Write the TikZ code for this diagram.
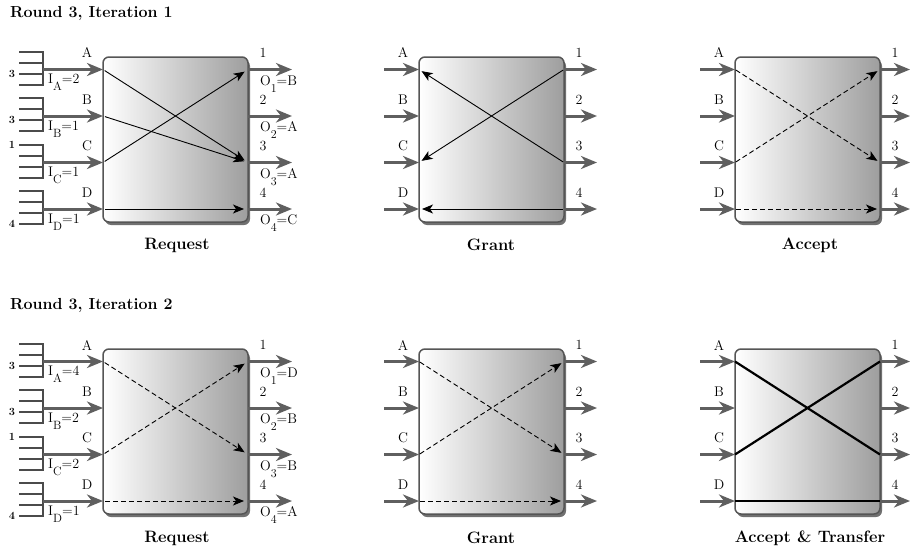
\documentclass[tikz,border=0pt]{standalone}
\usetikzlibrary{arrows.meta,shadows}
\definecolor{arrowgray}{RGB}{95,95,95}
\definecolor{boxedge}{RGB}{85,85,85}
\definecolor{boxgray}{RGB}{158,158,158}
\definecolor{queuegray}{RGB}{75,75,75}
\newcommand\lsub[1]{\raisebox{-7pt}{\fontsize{12}{13}\selectfont #1}}
\tikzset{
  box/.style={draw=boxedge, line width=1.5pt, rounded corners=6pt, left color=white, right color=boxgray,
    minimum width=145pt, minimum height=165pt, inner sep=0pt, outer sep=0pt,
    drop shadow={shadow xshift=2pt, shadow yshift=-3pt, opacity=0.7, fill=black!80}},
  bigarrow/.style={line width=3pt, draw=arrowgray, -{Stealth[length=16pt,width=13pt,inset=5pt,fill=arrowgray]}},
  inarrow/.style={line width=0.9pt, -{Stealth[length=11pt,width=9pt,inset=3pt]}},
  dashedarrow/.style={inarrow, dash pattern=on 5pt off 3pt},
  transfer/.style={line width=2.2pt},
  lbl/.style={font=\fontsize{14}{16}\selectfont, inner sep=0pt},
  sublbl/.style={font=\fontsize{14}{16}\selectfont, inner sep=0pt, anchor=base west},
  captext/.style={font=\fontsize{16.5}{19}\selectfont\bfseries, inner sep=0pt},
  titletext/.style={font=\fontsize{16}{19}\selectfont\bfseries, inner sep=0pt, anchor=west},
  qnum/.style={font=\fontsize{11}{12}\selectfont\bfseries, inner sep=0pt},
  queue/.style={line width=2pt, draw=queuegray},
}
% #1 name, #2 box left, #3 box top, #4 input arrow length, #5 output arrow length
\newcommand\mkpanel[5]{%
  \node[box] (#1) at ({#2+72.5},{#3+82.5}) {};
  \foreach \n/\l/\yy in {1/A/12.5, 2/B/59, 3/C/105.5, 4/D/152}{
    \coordinate (#1-\l) at ({#2},{#3+\yy});
    \coordinate (#1-\n) at ({#2+145},{#3+\yy});
    \coordinate (#1-s\l) at ({#2-#4},{#3+\yy});
    \coordinate (#1-e\n) at ({#2+145+#5},{#3+\yy});
    \draw[bigarrow] (#1-s\l) -- (#1-\l);
    \draw[bigarrow] (#1-\n) -- (#1-e\n);
    \node[lbl] (#1-l\l) at ({#2-16},{#3+\yy-16.5}) {\l};
    \node[lbl] (#1-l\n) at ({#2+160},{#3+\yy-16.5}) {\n};
  }
}
% queue: #1 name, #2 arrow y, #3 number, #4 offset of number
\newcommand\mkqueue[4]{%
  \draw[queue] (19,{#2-18}) -- (43,{#2-18}) -- (43,{#2+15}) -- (19,{#2+15});
  \draw[queue] (19,{#2-7}) -- (43,{#2-7}) (19,{#2+4}) -- (43,{#2+4});
  \node[qnum] (#1) at (12,{#2+#4}) {#3};
}
\begin{document}
\begin{tikzpicture}[x=1pt,y=-1pt]
\useasboundingbox (0,0) rectangle (911,554);

% ---------------- Row 1 ----------------
\node[titletext] (title1) at (10,13) {Round 3, Iteration 1};
\mkqueue{q1a}{69.5}{3}{4}
\mkqueue{q1b}{116}{3}{4}
\mkqueue{q1c}{162.5}{1}{-18}
\mkqueue{q1d}{209}{4}{15}
\mkpanel{p11}{103}{57}{60}{44}
\mkpanel{p12}{419}{57}{35}{33}
\mkpanel{p13}{735}{57}{35}{30}

\node[sublbl] (i1a) at (48,83.5) {I\lsub{A}=2};
\node[sublbl] (i1b) at (48,130) {I\lsub{B}=1};
\node[sublbl] (i1c) at (48,176.5) {I\lsub{C}=1};
\node[sublbl] (i1d) at (48,223) {I\lsub{D}=1};
\node[sublbl] (o1a) at (260,85) {O\lsub{1}=B};
\node[sublbl] (o1b) at (260,131.5) {O\lsub{2}=A};
\node[sublbl] (o1c) at (260,178) {O\lsub{3}=A};
\node[sublbl] (o1d) at (260,224.5) {O\lsub{4}=C};

\draw[inarrow, shorten <=2pt, shorten >=4pt] (p11-A) -- (p11-3);
\draw[inarrow, shorten <=2pt, shorten >=4pt] (p11-B) -- (p11-3);
\draw[inarrow, shorten <=2pt, shorten >=4pt] (p11-C) -- (p11-1);
\draw[inarrow, shorten <=2pt, shorten >=4pt] (p11-D) -- (p11-4);

\draw[inarrow, shorten <=1pt, shorten >=3pt] (p12-1) -- (p12-C);
\draw[inarrow, shorten <=1pt, shorten >=3pt] (p12-3) -- (p12-A);
\draw[inarrow, shorten <=1pt, shorten >=3pt] (p12-4) -- (p12-D);

\draw[dashedarrow, shorten <=1pt, shorten >=3pt] (p13-A) -- (p13-3);
\draw[dashedarrow, shorten <=1pt, shorten >=3pt] (p13-C) -- (p13-1);
\draw[dashedarrow, shorten <=1pt, shorten >=3pt] (p13-D) -- (p13-4);

\node[captext] (c11) at (177,245) {Request};
\node[captext] (c12) at (491,245) {Grant};
\node[captext] (c13) at (810,245) {Accept};

% ---------------- Row 2 ----------------
\node[titletext] (title2) at (10,305) {Round 3, Iteration 2};
\mkqueue{q2a}{361.5}{3}{4}
\mkqueue{q2b}{408}{3}{4}
\mkqueue{q2c}{454.5}{1}{-18}
\mkqueue{q2d}{501}{4}{15}
\mkpanel{p21}{103}{349}{60}{44}
\mkpanel{p22}{419}{349}{35}{33}
\mkpanel{p23}{735}{349}{35}{30}

\node[sublbl] (i2a) at (48,375.5) {I\lsub{A}=4};
\node[sublbl] (i2b) at (48,422) {I\lsub{B}=2};
\node[sublbl] (i2c) at (48,468.5) {I\lsub{C}=2};
\node[sublbl] (i2d) at (48,515) {I\lsub{D}=1};
\node[sublbl] (o2a) at (260,377) {O\lsub{1}=D};
\node[sublbl] (o2b) at (260,423.5) {O\lsub{2}=B};
\node[sublbl] (o2c) at (260,470) {O\lsub{3}=B};
\node[sublbl] (o2d) at (260,516.5) {O\lsub{4}=A};

\draw[dashedarrow, shorten <=2pt, shorten >=4pt] (p21-A) -- (p21-3);
\draw[dashedarrow, shorten <=2pt, shorten >=4pt] (p21-C) -- (p21-1);
\draw[dashedarrow, shorten <=2pt, shorten >=4pt] (p21-D) -- (p21-4);

\draw[dashedarrow, shorten <=1pt, shorten >=3pt] (p22-A) -- (p22-3);
\draw[dashedarrow, shorten <=1pt, shorten >=3pt] (p22-C) -- (p22-1);
\draw[dashedarrow, shorten <=1pt, shorten >=3pt] (p22-D) -- (p22-4);

\draw[transfer] (p23-A) -- (p23-3);
\draw[transfer] (p23-C) -- (p23-1);
\draw[transfer] (p23-D) -- (p23-4);

\node[captext] (c21) at (177,538) {Request};
\node[captext] (c22) at (491,538) {Grant};
\node[captext] (c23) at (810,538) {Accept \& Transfer};
\end{tikzpicture}
\end{document}
